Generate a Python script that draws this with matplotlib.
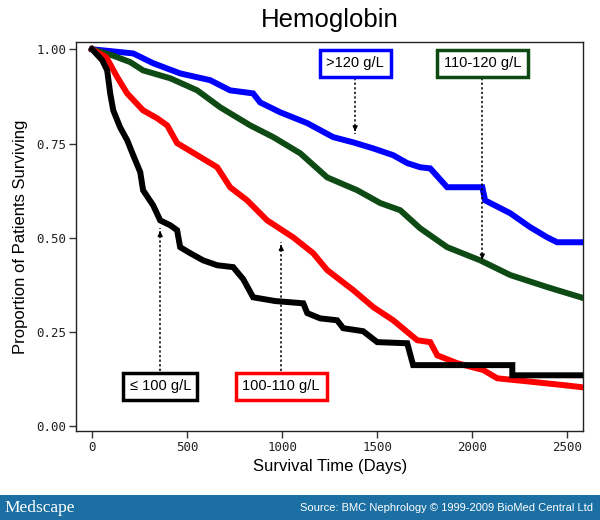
import numpy as np
import matplotlib.pyplot as plt
from matplotlib.patches import Rectangle

# Kaplan-Meier curves (days, proportion surviving)
days_hi = [0, 216, 321, 463, 621, 726, 847, 884, 989, 1132, 1268, 1374, 1479, 1584,
           1658, 1726, 1779, 1868, 2053, 2068, 2200, 2305, 2395, 2447, 2584]
surv_hi = [1.0, 0.989, 0.963, 0.936, 0.918, 0.891, 0.883, 0.859, 0.833, 0.804, 0.767,
           0.753, 0.737, 0.719, 0.698, 0.687, 0.684, 0.634, 0.634, 0.599, 0.565, 0.528,
           0.501, 0.488, 0.488]

days_mid = [0, 105, 200, 268, 411, 553, 674, 832, 953, 1095, 1237, 1395, 1516, 1621,
            1726, 1868, 2042, 2200, 2395, 2584]
surv_mid = [1.0, 0.984, 0.966, 0.944, 0.923, 0.891, 0.846, 0.798, 0.767, 0.724, 0.660,
            0.626, 0.592, 0.573, 0.525, 0.475, 0.440, 0.401, 0.369, 0.340]

days_low = [0, 74, 132, 184, 268, 342, 395, 447, 553, 658, 726, 816, 921, 1058, 1163,
            1237, 1374, 1479, 1584, 1711, 1779, 1816, 1921, 2058, 2132, 2289, 2479, 2584]
surv_low = [1.0, 0.979, 0.926, 0.883, 0.838, 0.817, 0.798, 0.751, 0.719, 0.687, 0.634,
            0.599, 0.546, 0.501, 0.459, 0.414, 0.361, 0.316, 0.281, 0.228, 0.223, 0.188,
            0.167, 0.149, 0.127, 0.119, 0.109, 0.103]

days_vlow = [0, 53, 79, 95, 111, 147, 184, 216, 253, 268, 321, 358, 411, 447, 463, 516,
             584, 658, 742, 795, 847, 963, 1111, 1132, 1200, 1289, 1321, 1426, 1500, 1658,
             1689, 2211, 2211, 2584]
surv_vlow = [1.0, 0.971, 0.944, 0.883, 0.838, 0.793, 0.759, 0.719, 0.674, 0.626, 0.586,
             0.546, 0.533, 0.520, 0.475, 0.459, 0.440, 0.427, 0.422, 0.390, 0.342, 0.332,
             0.326, 0.300, 0.286, 0.281, 0.260, 0.252, 0.223, 0.220, 0.162, 0.162, 0.135,
             0.135]

group_labels = ['>120 g/L', '110-120 g/L', '\u2264 100 g/L', '100-110 g/L']
group_colors = ['#0000ff', '#0d4a14', '#000000', '#ff0000']
# label box centre (day, proportion) and arrow tip proportion
label_pos = [(1384, 0.963), (2053, 0.963), (358, 0.106), (995, 0.106)]
arrow_tip = [0.775, 0.435, 0.525, 0.488]

xticks = [0, 500, 1000, 1500, 2000, 2500]
yticks = [0.0, 0.25, 0.5, 0.75, 1.0]

plt.rcParams['font.family'] = ['Liberation Sans', 'DejaVu Sans']

fig = plt.figure(figsize=(6, 5.2), dpi=100)
ax = fig.add_axes([0.127, 0.171, 0.845, 0.748])

for d, s, c in zip([days_hi, days_mid, days_low, days_vlow],
                   [surv_hi, surv_mid, surv_low, surv_vlow],
                   ['#0000ff', '#0d4a14', '#ff0000', '#000000']):
    ax.plot(d, s, color=c, linewidth=4.3, solid_joinstyle='miter', zorder=3)

# label boxes with dotted arrows
for lab, col, (lx, ly), tip in zip(group_labels, group_colors, label_pos, arrow_tip):
    ax.text(lx, ly, lab, ha='center', va='center', fontsize=10.5, zorder=5,
            bbox=dict(boxstyle='square,pad=0.45', fc='white', ec=col, lw=2.5))
    start = ly - 0.04 if ly > 0.5 else ly + 0.04
    ax.plot([lx, lx], [start, tip], color='black', linestyle=(0, (1.5, 1.5)),
            linewidth=1.1, zorder=4)
    direction = -1 if ly > 0.5 else 1
    ax.annotate('', xy=(lx, tip), xytext=(lx, tip - direction * 0.02),
                arrowprops=dict(arrowstyle='-|>', color='black', lw=1,
                                mutation_scale=7), zorder=4)

ax.set_xlim(-84, 2584)
ax.set_ylim(-0.013, 1.019)
ax.set_xticks(xticks)
ax.set_yticks(yticks)
ax.set_xticklabels([str(t) for t in xticks], family='DejaVu Sans Mono', fontsize=9)
ax.set_yticklabels(['%.2f' % t for t in yticks], family='DejaVu Sans Mono', fontsize=9)
ax.tick_params(direction='out', length=5, width=1, color='#333333', labelcolor='#222222')
ax.tick_params(axis='x', pad=2)
ax.tick_params(axis='y', pad=2)
for sp in ax.spines.values():
    sp.set_linewidth(1)
    sp.set_color('#222222')

ax.set_xlabel('Survival Time (Days)', fontsize=12, labelpad=4)
ax.set_ylabel('Proportion of Patients Surviving', fontsize=12, labelpad=6)
fig.text(0.55, 0.962, 'Hemoglobin', ha='center', va='center', fontsize=18.5)

# footer banner
fig.patches.append(Rectangle((0, 0), 1, 0.048, transform=fig.transFigure,
                             facecolor='#1b6fa3', edgecolor='none'))
fig.text(0.008, 0.024, 'Medscape', color='white', fontsize=12.5, family='Liberation Serif',
         ha='left', va='center')
fig.text(0.988, 0.024, 'Source: BMC Nephrology \u00a9 1999-2009 BioMed Central Ltd',
         color='white', fontsize=8, ha='right', va='center')

fig.savefig('out.png', dpi=100)
